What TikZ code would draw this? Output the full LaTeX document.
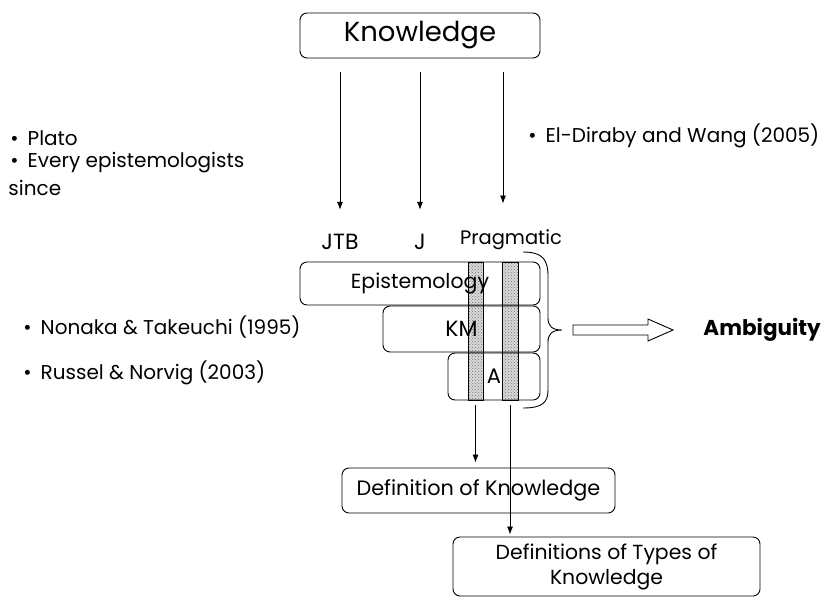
\documentclass[tikz,border=0pt]{standalone}
\usepackage{fontspec}
\setmainfont{Poppins}
\usetikzlibrary{arrows.meta,patterns}
\begin{document}
\begin{tikzpicture}[x=1pt,y=-1pt,
  line width=0.9pt,
  box/.style={draw, rounded corners=7pt, inner sep=0pt},
  lbl/.style={inner sep=0pt, font=\fontsize{20}{22}\selectfont},
  arr/.style={-{Latex[length=8pt,width=6pt]}, line width=0.8pt},
  stripbox/.style={draw, inner sep=0pt, preaction={fill=gray!30},
    pattern=crosshatch dots, pattern color=gray!90!black}]
\useasboundingbox (0,0) rectangle (827,598);

% top concept
\node[box, minimum width=240, minimum height=45,
      font=\fontsize{27.5}{30}\selectfont] (know) at (420,35.5) {Knowledge};

% three views of knowledge
\node[lbl, font=\fontsize{22}{24}\selectfont] (jtb) at (340,242) {JTB};
\node[lbl, font=\fontsize{22}{24}\selectfont] (j) at (420,242) {J};
\node[lbl, font=\fontsize{19.5}{22}\selectfont] (prag) at (511,240) {Pragmatic};

\draw[arr, shorten <=14pt, shorten >=24pt] (know.south -| jtb) -- (jtb.north);
\draw[arr, shorten <=14pt, shorten >=24pt] (know.south -| j) -- (j.north);
\draw[arr, shorten <=14pt, shorten >=26pt] (know.south -| 503,0) -- (prag.north -| 503,0);

% sources
\node[lbl, anchor=west] (plato) at (10,138) {•\hspace{9pt}Plato};
\node[lbl, anchor=west] (every) at (10,163) {•\hspace{9pt}Every epistemologists};
\node[lbl, anchor=west] (since) at (8,188) {since};
\node[lbl, anchor=west] (diraby) at (528,136) {•\hspace{9pt}El-Diraby and Wang (2005)};
\node[lbl, anchor=west] (nonaka) at (23,327) {•\hspace{9pt}Nonaka \& Takeuchi (1995)};
\node[lbl, anchor=west] (russel) at (23,373) {•\hspace{9pt}Russel \& Norvig (2003)};

% shaded columns crossing the fields
\node[stripbox, minimum width=15, minimum height=138] (s1) at (475.5,331) {};
\node[stripbox, minimum width=16, minimum height=138] (s2) at (510,331) {};

% fields
\node[box, minimum width=240, minimum height=43, font=\fontsize{20.5}{22}\selectfont]
  (epi) at (420,283.5) {Epistemology};
\node[box, minimum width=157, minimum height=46, font=\fontsize{22}{22}\selectfont]
  (km) at (461.5,329) {KM};
\node[box, minimum width=92, minimum height=47, font=\fontsize{21}{22}\selectfont]
  (ai) at (494,376.5) {A};

% brace grouping the fields
\draw (523,252) .. controls (543,252) and (548,260) .. (548,276)
  -- (548,318) .. controls (548,326) and (552,330) .. (562,330)
  .. controls (552,330) and (548,334) .. (548,342)
  -- (548,390) .. controls (548,402) and (543,408) .. (523,408);

% hollow arrow to the result
\coordinate (hb) at (573,330);
\node[inner sep=0pt, anchor=west, font=\bfseries\fontsize{21.5}{22}\selectfont]
  (amb) at (703,330) {Ambiguity};
\draw[line width=0.9pt] (hb) ++(0,-5) -- ++(75,0) -- ++(0,-6) -- (673,330)
  -- (648,341) -- ++(0,-6) -- ++(-75,0) -- cycle;

% definitions
\node[box, minimum width=273, minimum height=45, font=\fontsize{20.8}{22}\selectfont]
  (dk) at (478.5,490.5) {Definition of Knowledge};
\node[box, minimum width=307, minimum height=59, align=center,
      font=\fontsize{20.4}{25}\selectfont]
  (dtk) at (606.5,566.5) {Definitions of Types of\\Knowledge};

\draw[arr, shorten <=5pt, shorten >=5pt] (s1.south) -- (dk.north -| s1.south);
\draw[arr, shorten <=5pt, shorten >=2pt] (s2.south) -- (dtk.north -| s2.south);
\end{tikzpicture}
\end{document}
